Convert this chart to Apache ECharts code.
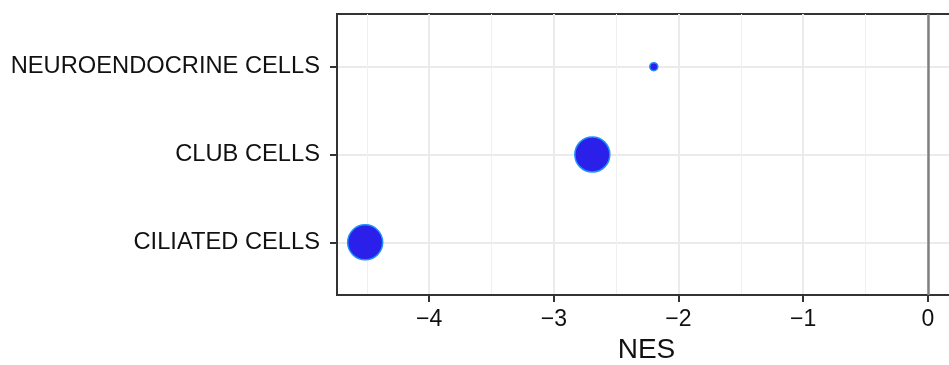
<!DOCTYPE html>
<html><head><meta charset="utf-8">
<script src="https://cdn.jsdelivr.net/npm/echarts@6/dist/echarts.min.js"></script>
<style>html,body{margin:0;padding:0;background:#fff}#c{width:949px;height:365px}</style>
</head><body><div id="c"></div>
<script>
const categories = ['CILIATED CELLS', 'CLUB CELLS', 'NEUROENDOCRINE CELLS'];
const nes = [-4.513, -2.691, -2.198];
const setSize = [12, 12, 3];
const xTicks = [-4, -3, -2, -1, 0];
const xMinorTicks = [-4.5, -3.5, -2.5, -1.5, -0.5];
const yTicks = [1, 2, 3];
const vlines = [0];
const xMin = -4.739, xMax = 0.226;
const yMin = 0.4, yMax = 3.6;

const sMin = Math.min(...setSize), sMax = Math.max(...setSize);
function sizeOf(v) { return 8 + (v - sMin) / (sMax - sMin) * (35 - 8); }

const data = categories.map((c, i) => [nes[i], i + 1, setSize[i]]);
const font = 'Liberation Sans, Arial, Helvetica, sans-serif';
const fmtX = v => (v < 0 ? '\u2212' + Math.abs(v) : String(v));

const chart = echarts.init(document.getElementById('c'), null, {renderer: 'canvas'});
chart.setOption({
  animation: false,
  backgroundColor: '#fff',
  grid: {left: 337, width: 619, top: 14, height: 281, outerBoundsMode: 'none', containLabel: false,
    show: true, borderColor: '#333', borderWidth: 2, backgroundColor: '#fff'},
  xAxis: [{
    type: 'value', min: xMin, max: xMax, position: 'bottom',
    name: 'NES', nameLocation: 'middle', nameGap: 40,
    nameTextStyle: {fontFamily: font, fontSize: 28, color: '#111'},
    axisLine: {show: true, onZero: false, lineStyle: {color: '#333', width: 2}},
    axisTick: {show: true, customValues: xTicks, length: 7, lineStyle: {color: '#333', width: 2}},
    axisLabel: {show: true, customValues: xTicks, margin: 13, fontFamily: font, fontSize: 23, color: '#111', formatter: fmtX},
    splitLine: {show: true, lineStyle: {color: '#ebebeb', width: 2}}
  }, {
    type: 'value', min: xMin, max: xMax, position: 'bottom',
    axisLine: {show: false, onZero: false},
    axisTick: {show: false, customValues: xMinorTicks},
    axisLabel: {show: false, customValues: xMinorTicks},
    splitLine: {show: true, lineStyle: {color: '#f0f0f0', width: 1}}
  }],
  yAxis: {
    type: 'value', min: yMin, max: yMax,
    axisLine: {show: true, onZero: false, lineStyle: {color: '#333', width: 2}},
    axisTick: {show: true, customValues: yTicks, length: 7, lineStyle: {color: '#333', width: 2}},
    axisLabel: {show: true, customValues: yTicks, margin: 17, fontFamily: font, fontSize: 23.7, color: '#111',
      formatter: v => categories[Math.round(v) - 1] || ''},
    splitLine: {show: true, lineStyle: {color: '#ebebeb', width: 2}}
  },
  series: [{
    type: 'scatter', xAxisIndex: 0, data: data,
    symbolSize: d => sizeOf(d[2]),
    itemStyle: {color: '#2b1fea', borderColor: '#1e90ff', borderWidth: 1.5, opacity: 1},
    z: 5,
    markLine: {
      silent: true, symbol: 'none', label: {show: false}, z: 3,
      lineStyle: {color: '#808080', width: 2.5, type: 'solid'},
      data: vlines.map(v => ({xAxis: v}))
    }
  }]
});
</script></body></html>
